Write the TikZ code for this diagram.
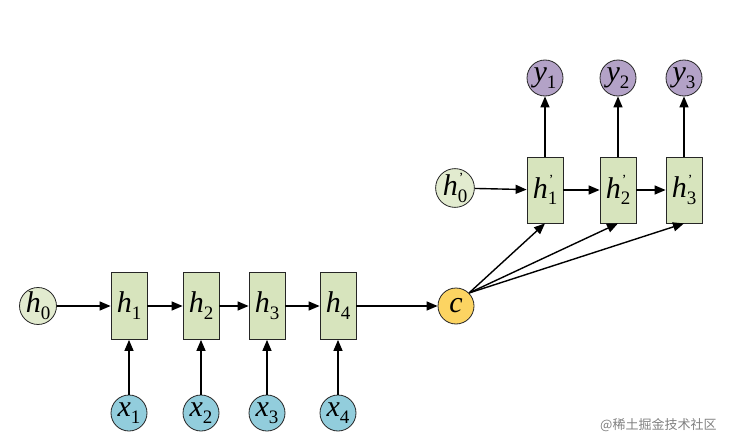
\documentclass[tikz,border=0pt]{standalone}
\usepackage{fontspec}
\setmainfont{Liberation Serif}
\newfontfamily\cjk{Noto Sans CJK SC}
\usetikzlibrary{arrows.meta}
\definecolor{boxg}{HTML}{D7E4BD}
\definecolor{hcirc}{HTML}{E2EBCF}
\definecolor{xcirc}{HTML}{92CDDC}
\definecolor{ccirc}{HTML}{FCD462}
\definecolor{ycirc}{HTML}{B3A2C7}
\newcommand\lblsub[2]{\textit{#1}\raisebox{-0.5ex}{\fontsize{19}{19}\selectfont #2}}
\newcommand\lblpr[2]{\textit{#1}\raisebox{-0.5ex}{\fontsize{19}{19}\selectfont\shortstack[l]{\fontsize{14}{14}\selectfont\hspace{1pt}'\\[5pt]#2}}}
\tikzset{
  cell/.style={draw=black!85, fill=boxg, line width=0.8pt, minimum width=36pt, minimum height=67pt, inner sep=0pt, font=\fontsize{30}{30}\selectfont},
  unit/.style={circle, draw=black!85, line width=0.8pt, minimum size=36pt, inner sep=0pt, font=\fontsize{30}{30}\selectfont},
  conn/.style={line width=1.4pt, -{Triangle[length=11pt,width=9pt]}},
}
\begin{document}
\begin{tikzpicture}[x=1pt,y=-1pt]
\useasboundingbox (0,0) rectangle (756,447);
% encoder
\node[unit, fill=hcirc] (h0) at (38,306) {\lblsub{h}{0}};
\node[cell] (h1) at (129,306) {\lblsub{h}{1}};
\node[cell] (h2) at (201,306) {\lblsub{h}{2}};
\node[cell] (h3) at (267,306) {\lblsub{h}{3}};
\node[cell] (h4) at (338,306) {\lblsub{h}{4}};
\node[unit, fill=xcirc] (x1) at (129,413) {\lblsub{x}{1}};
\node[unit, fill=xcirc] (x2) at (201,413) {\lblsub{x}{2}};
\node[unit, fill=xcirc] (x3) at (267,413) {\lblsub{x}{3}};
\node[unit, fill=xcirc] (x4) at (338,413) {\lblsub{x}{4}};
\node[unit, fill=ccirc] (c) at (456,306) {\textit{c}};
% decoder
\node[unit, fill=hcirc] (d0) at (455,188) {\lblpr{h}{0}};
\node[cell, minimum height=66pt] (d1) at (545,190) {\lblpr{h}{1}};
\node[cell, minimum height=66pt] (d2) at (618,190) {\lblpr{h}{2}};
\node[cell, minimum height=66pt] (d3) at (684,190) {\lblpr{h}{3}};
\node[unit, fill=ycirc] (y1) at (545,78) {\lblsub{y}{1}};
\node[unit, fill=ycirc] (y2) at (618,78) {\lblsub{y}{2}};
\node[unit, fill=ycirc] (y3) at (684,78) {\lblsub{y}{3}};
% connectors
\draw[conn] (h0) -- (h1);
\draw[conn] (h1) -- (h2);
\draw[conn] (h2) -- (h3);
\draw[conn] (h3) -- (h4);
\draw[conn] (h4) -- (c);
\foreach \i in {1,2,3,4} \draw[conn] (x\i) -- (h\i);
\draw[conn] (d0) -- (d1);
\draw[conn] (d1) -- (d2);
\draw[conn] (d2) -- (d3);
\foreach \i in {1,2,3} \draw[conn] (d\i) -- (y\i);
\foreach \i in {1,2,3} \draw[conn] (c.north east) -- (d\i.south);
% watermark
\node[anchor=west, text=black!50, font=\cjk\fontsize{13}{13}\selectfont, inner sep=0pt] (wm) at (600,425) {@稀土掘金技术社区};
\end{tikzpicture}
\end{document}
